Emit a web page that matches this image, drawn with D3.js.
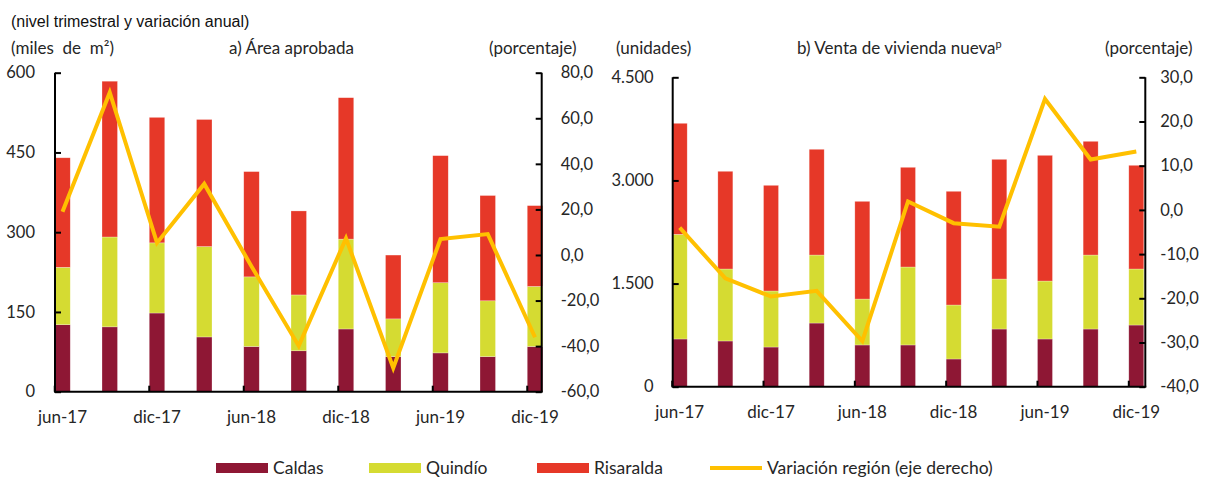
<!DOCTYPE html>
<html><head><meta charset="utf-8">
<script src="https://cdn.jsdelivr.net/npm/d3@7"></script>
<style>
body{margin:0;background:#fff;}
svg{display:block;}
text{font-family:Lato,"Open Sans",sans-serif;fill:#262626;}
</style></head><body>
<svg id="c" width="1206" height="478"></svg>
<script>
// ---- data ----
const categories = ["jun-17","sep-17","dic-17","mar-18","jun-18","sep-18","dic-18","mar-19","jun-19","sep-19","dic-19"];
const tickLabels = ["jun-17","dic-17","jun-18","dic-18","jun-19","dic-19"];
const seriesNames = ["Caldas","Quindío","Risaralda"];
const lineName = "Variación región (eje derecho)";
// a) Área aprobada (miles de m2)
const areaCaldas    = [126,122,148,103,85,77,118,66,73,66,85];
const areaQuindio   = [108,169,132,170,131,105,169,71,132,105,113];
const areaRisaralda = [206,293,236,239,198,158,266,120,239,198,152];
const areaVariacion = [19.0,71.3,5.3,31.2,-5.0,-39.9,7.3,-49.6,7.0,9.2,-36.1];
// b) Venta de vivienda nueva (unidades)
const ventaCaldas    = [694,665,577,926,607,607,403,839,694,839,897];
const ventaQuindio   = [1522,1047,815,989,668,1134,785,727,843,1076,815];
const ventaRisaralda = [1615,1421,1537,1538,1421,1450,1654,1741,1828,1654,1508];
const ventaVariacion = [-4.0,-15.5,-19.6,-18.3,-29.7,1.9,-3.0,-3.8,25.1,11.4,13.2];
const leftTicksA = [0,150,300,450,600];
const rightTicksA = [-60,-40,-20,0,20,40,60,80];
const leftTicksB = [0,1500,3000,4500];
const rightTicksB = [-40,-30,-20,-10,0,10,20,30];

const colors = ["#8E1734","#D5DB32","#E63828"];
const lineColor = "#FFC000";

const loc = d3.formatLocale({decimal:",",thousands:".",grouping:[3],currency:["$",""],minus:"-"});
const fmtInt = loc.format(",d");
const fmtPct = loc.format(".1f");

const svg = d3.select("#c");

svg.append("text").attr("x",11).attr("y",27)
  .style("font-family","'Liberation Sans',Arial,sans-serif").style("font-size","16px").style("fill","#111")
  .text("(nivel trimestral y variación anual)");

function panel(cfg){
  const g = svg.append("g");
  const x = d3.scalePoint().domain(categories).range(cfg.xr);
  const y = d3.scaleLinear().domain(cfg.yd).range([cfg.bottom,cfg.top]);
  const y2 = d3.scaleLinear().domain(cfg.y2d).range([cfg.bottom,cfg.top]);
  const bw = cfg.bw;
  const data = categories.map((c,i)=>({cat:c, vals:[cfg.s[0][i],cfg.s[1][i],cfg.s[2][i]]}));
  const stack = d3.stack().keys([0,1,2]).value((d,k)=>d.vals[k])(data);
  stack.forEach((layer,k)=>{
    g.append("g").selectAll("rect").data(layer).join("rect")
      .attr("x",d=>x(d.data.cat)-bw/2).attr("width",bw)
      .attr("y",d=>y(d[1])).attr("height",d=>y(d[0])-y(d[1]))
      .attr("fill",colors[k]).attr("stroke","#fff").attr("stroke-opacity",0.45).attr("stroke-width",0.6);
  });
  // line
  const ln = d3.line().x((d,i)=>x(categories[i])).y(d=>y2(d));
  g.append("path").datum(cfg.v).attr("d",ln).attr("fill","none")
    .attr("stroke",lineColor).attr("stroke-width",4).attr("stroke-linejoin","miter");
  // left axis
  const la = d3.axisLeft(y).tickValues(cfg.lt).tickSize(-6).tickPadding(cfg.lp).tickFormat(fmtInt);
  const lg = g.append("g").attr("transform",`translate(${cfg.xl},0)`).call(la);
  // right axis
  const ra = d3.axisRight(y2).tickValues(cfg.rt).tickSize(-6).tickPadding(cfg.rp).tickFormat(fmtPct);
  const rg = g.append("g").attr("transform",`translate(${cfg.xrr},0)`).call(ra);
  [lg,rg].forEach(a=>{
    a.select(".domain").attr("stroke","#000").attr("stroke-width",2).attr("d",`M0,${cfg.top}V${cfg.bottom}`);
    a.selectAll(".tick line").attr("stroke","#000").attr("stroke-width",2);
    a.selectAll(".tick text").style("font-size","16.5px").style("fill","#262626").attr("font-family",null);
  });
  // bottom axis
  g.append("line").attr("x1",cfg.xl-1).attr("x2",cfg.xrr+1).attr("y1",cfg.bottom).attr("y2",cfg.bottom)
    .attr("stroke","#000").attr("stroke-width",2);
  const tickCats = categories.filter(c=>tickLabels.includes(c));
  g.append("g").selectAll("line").data(tickCats).join("line")
    .attr("x1",c=>x(c)-bw/2).attr("x2",c=>x(c)-bw/2)
    .attr("y1",cfg.bottom).attr("y2",cfg.bottom-6).attr("stroke","#000").attr("stroke-width",2);
  g.append("g").selectAll("text").data(tickCats).join("text")
    .attr("x",c=>x(c)).attr("y",cfg.bottom+31).attr("text-anchor","middle")
    .style("font-size","17px").text(c=>c);
  // titles
  const t = g.append("g").style("font-size","17px");
  t.append("text").attr("x",cfg.ut[0]).attr("y",54).html(cfg.ut[1]);
  const tt = t.append("text").attr("x",cfg.tt[0]).attr("y",54).text(cfg.tt[1]);
  if(cfg.sup){ tt.append("tspan").attr("dy",-6).style("font-size","11px").text(cfg.sup); }
  t.append("text").attr("x",cfg.pt).attr("y",54).text("(porcentaje)");
}

panel({xr:[62.5,535], bw:15.5, yd:[0,600], y2d:[-60,80], top:72.7, bottom:391.7,
  xl:55, xrr:541.7, lp:20, rp:19, lt:leftTicksA, rt:rightTicksA,
  s:[areaCaldas,areaQuindio,areaRisaralda], v:areaVariacion,
  ut:[11,"(miles&#160; de&#160; m²)"], tt:[229,"a)  Área aprobada"], pt:489});
panel({xr:[679.7,1136.3], bw:15, yd:[0,4500], y2d:[-40,30], top:77.3, bottom:386.7,
  xl:672.7, xrr:1145.3, lp:19, rp:15, lt:leftTicksB, rt:rightTicksB,
  s:[ventaCaldas,ventaQuindio,ventaRisaralda], v:ventaVariacion,
  ut:[616,"(unidades)"], tt:[797,"b) Venta de vivienda  nueva"], sup:"p", pt:1105});

// legend
const leg = svg.append("g").style("font-size","17.5px");
const legX = [216,369,537,710];
seriesNames.forEach((n,i)=>{
  leg.append("rect").attr("x",legX[i]).attr("y",463).attr("width",52).attr("height",10).attr("fill",colors[i]);
  leg.append("text").attr("x",legX[i]+57).attr("y",474).text(n);
});
leg.append("line").attr("x1",legX[3]).attr("x2",legX[3]+52).attr("y1",468).attr("y2",468)
  .attr("stroke",lineColor).attr("stroke-width",4);
leg.append("text").attr("x",legX[3]+57).attr("y",474).text(lineName);
</script></body></html>
